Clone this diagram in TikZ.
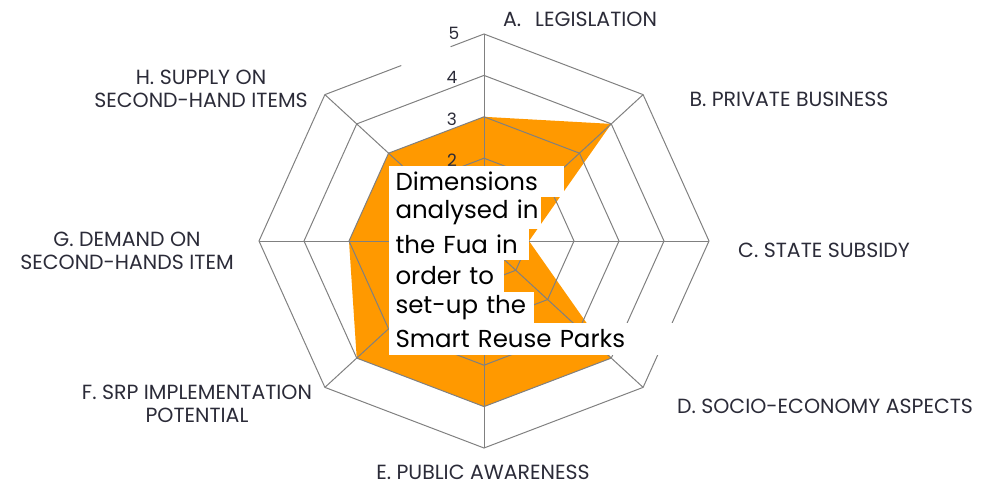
\documentclass[tikz,border=0pt]{standalone}
\usepackage{fontspec}
\setmainfont{Poppins}
\usepackage{tikz}
\usetikzlibrary{calc}
\definecolor{radarorange}{HTML}{FF9900}
\definecolor{gridgray}{HTML}{808080}
\definecolor{labelink}{HTML}{2B2B38}
\tikzset{
  axislabel/.style={text=labelink,font=\fontsize{20.5}{23}\selectfont,align=center,inner sep=0pt},
  ticklabel/.style={text=labelink,font=\fontsize{17}{20}\selectfont,inner sep=0pt},
  captionline/.style={fill=white,anchor=north west,inner xsep=7pt,inner ysep=0pt,
    minimum height=31.5pt,align=left,text=black,font=\fontsize{24.5}{28}\selectfont}
}
\begin{document}
\begin{tikzpicture}[x=1pt,y=-1pt,line width=1pt]
\useasboundingbox (0,0) rectangle (990,492);
\begin{scope}[shift={(484pt,-241pt)},x={(45pt,0pt)},y={(0pt,41.4pt)}]
  % axes A..H, clockwise from the top
  \foreach \ang [count=\i] in {90,45,0,-45,-90,-135,180,135}
    \coordinate (ax\i) at (\ang:5);
  \coordinate (O) at (0,0);
  % scores
  \fill[radarorange] (90:3) -- (45:4) -- (0:1) -- (-45:4) -- (-90:4) -- (-135:4) -- (180:3) -- (135:3) -- cycle;
  \foreach \r in {1,...,4}
    \draw[gridgray] (90:\r) \foreach \ang in {45,0,-45,-90,-135,180,135}{ -- (\ang:\r)} -- cycle;
  \draw[gridgray] ($(ax8)!0.79!(ax1)$) -- (ax1) -- (ax2) -- (ax3) -- (ax4) -- (ax5) -- (ax6) -- (ax7) -- (ax8) -- ($(ax8)!0.48!(ax1)$);
  \foreach \i in {1,...,8}
    \draw[gridgray] (O) -- (ax\i);
  \foreach \v in {2,3,4}
    \node[ticklabel] (tick\v) at ($(90:\v)+(-32pt,-2pt)$) {\v};
  \begin{scope}
    \clip ($(90:5)+(-45pt,-20pt)$) rectangle ($(90:5)+(-20pt,7pt)$);
    \node[ticklabel] (tick5) at ($(90:5)+(-30pt,1pt)$) {5};
  \end{scope}
\end{scope}
% category labels
\node[axislabel] (labA) at (580,19) {A.\hspace{14pt}LEGISLATION};
\node[axislabel] (labB) at (789,99) {B. PRIVATE BUSINESS};
\node[axislabel] (labC) at (824,250) {C. STATE SUBSIDY};
\node[axislabel] (labD) at (825,406) {D. SOCIO-ECONOMY ASPECTS};
\node[axislabel] (labE) at (483,472) {E. PUBLIC AWARENESS};
\node[axislabel] (labF) at (197,404) {F. SRP IMPLEMENTATION\\POTENTIAL};
\node[axislabel] (labG) at (127,251) {G. DEMAND ON\\SECOND-HANDS ITEM};
\node[axislabel] (labH) at (201,89) {H. SUPPLY ON\\SECOND-HAND ITEMS};
% caption in the middle
\foreach \txt/\boxw [count=\i] in {Dimensions/161,analysed in/138,the Fua in/126,order to/101,set-up the/131,Smart Reuse Parks/278}
  \node[captionline,text width=\boxw pt] (cap\i) at (388,{165+31.5*(\i-1)}) {\mbox{\txt}};
\end{tikzpicture}
\end{document}
